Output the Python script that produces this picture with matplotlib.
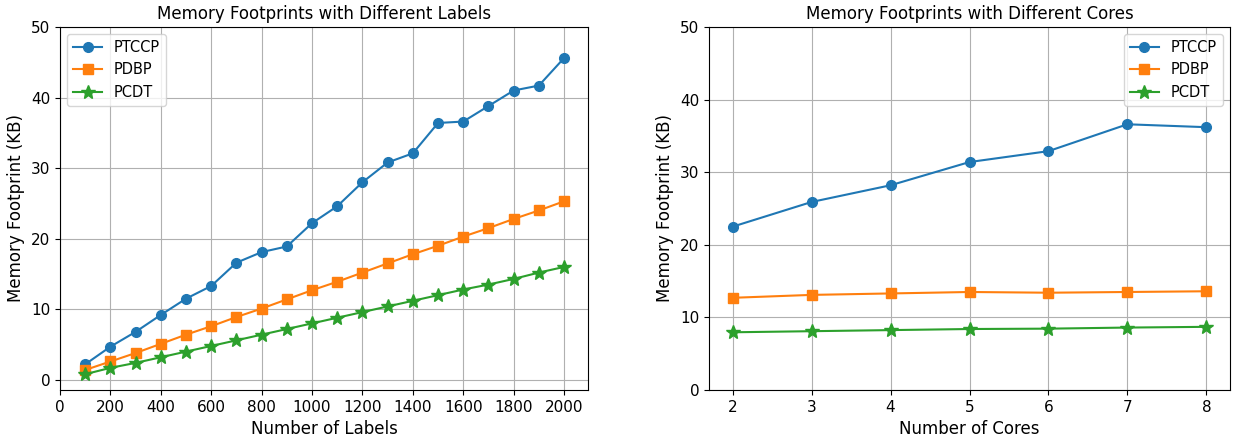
import matplotlib
matplotlib.use("Agg")
import matplotlib.pyplot as plt

labels = [100, 200, 300, 400, 500, 600, 700, 800, 900, 1000,
          1100, 1200, 1300, 1400, 1500, 1600, 1700, 1800, 1900, 2000]
ptccp_labels = [2.2, 4.7, 6.8, 9.2, 11.5, 13.3, 16.6, 18.1, 18.9, 22.2,
                24.6, 28.0, 30.8, 32.1, 36.4, 36.6, 38.8, 41.0, 41.7, 45.6]
pdbp_labels = [1.4, 2.6, 3.8, 5.1, 6.4, 7.6, 8.9, 10.1, 11.4, 12.7,
               13.9, 15.2, 16.5, 17.8, 19.0, 20.3, 21.5, 22.8, 24.0, 25.3]
pcdt_labels = [0.8, 1.7, 2.4, 3.2, 4.0, 4.8, 5.6, 6.4, 7.2, 8.0,
               8.8, 9.6, 10.4, 11.2, 12.0, 12.8, 13.5, 14.3, 15.2, 16.0]

cores = [2, 3, 4, 5, 6, 7, 8]
ptccp_cores = [22.5, 25.9, 28.2, 31.4, 32.9, 36.6, 36.2]
pdbp_cores = [12.7, 13.1, 13.3, 13.5, 13.4, 13.5, 13.6]
pcdt_cores = [7.95, 8.1, 8.25, 8.4, 8.45, 8.6, 8.7]

fig = plt.figure(figsize=(12.38, 4.37), dpi=100)
ax1 = fig.add_axes([60/1238, 1-390/437, 528/1238, 363/437])
ax2 = fig.add_axes([709/1238, 1-390/437, 521/1238, 363/437])

ax1.plot(labels, ptccp_labels, marker='o', markersize=7, label='PTCCP')
ax1.plot(labels, pdbp_labels, marker='s', markersize=7, label='PDBP')
ax1.plot(labels, pcdt_labels, marker='*', markersize=10, label='PCDT')
ax1.set_ylim(top=50)
ax1.set_xticks(range(0, 2001, 200))
ax1.set_title("Memory Footprints with Different Labels", fontsize=12)
ax1.set_xlabel("Number of Labels", fontsize=12)
ax1.set_ylabel("Memory Footprint (KB)", fontsize=12)
ax1.tick_params(labelsize=11)
ax1.grid(True)
ax1.legend(loc='upper left', fontsize=10.5)

ax2.plot(cores, ptccp_cores, marker='o', markersize=7, label='PTCCP')
ax2.plot(cores, pdbp_cores, marker='s', markersize=7, label='PDBP')
ax2.plot(cores, pcdt_cores, marker='*', markersize=10, label='PCDT')
ax2.set_ylim(0, 50)
ax2.set_title("Memory Footprints with Different Cores", fontsize=12)
ax2.set_xlabel("Number of Cores", fontsize=12)
ax2.set_ylabel("Memory Footprint (KB)", fontsize=12)
ax2.tick_params(labelsize=11)
ax2.grid(True)
ax2.legend(loc='upper right', fontsize=10.5)

plt.savefig("out.png", dpi=100)
